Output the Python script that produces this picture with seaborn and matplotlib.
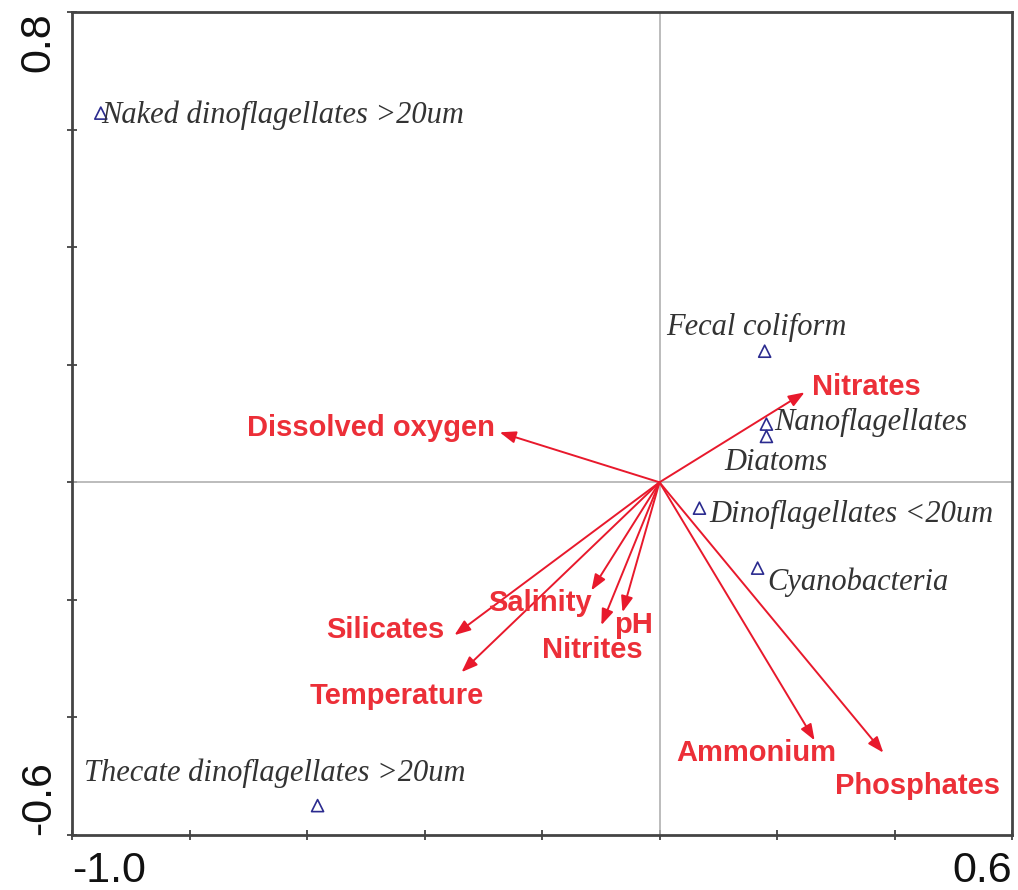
import matplotlib
matplotlib.use("Agg")
import matplotlib.pyplot as plt
import seaborn as sns
import pandas as pd

# ---- data ----
species = ["Naked dinoflagellates >20um", "Fecal coliform", "Nanoflagellates", "Diatoms",
           "Dinoflagellates <20um", "Cyanobacteria", "Thecate dinoflagellates >20um"]
species_x = [-0.951, 0.179, 0.182, 0.182, 0.068, 0.167, -0.582]
species_y = [0.628, 0.223, 0.099, 0.078, -0.044, -0.146, -0.550]

env = ["Dissolved oxygen", "Nitrates", "Silicates", "Temperature", "Salinity",
       "Nitrites", "pH", "Ammonium", "Phosphates"]
env_x = [-0.272, 0.247, -0.349, -0.337, -0.116, -0.099, -0.063, 0.264, 0.381]
env_y = [0.085, 0.153, -0.260, -0.323, -0.184, -0.243, -0.221, -0.439, -0.460]

xtick_labels = ["-1.0", "0.6"]
ytick_labels = ["-0.6", "0.8"]

# ---- label placement (styling) ----
species_lab = {
    "Naked dinoflagellates >20um": (-0.950, 0.625, "left"),
    "Fecal coliform": (0.012, 0.264, "left"),
    "Nanoflagellates": (0.196, 0.102, "left"),
    "Diatoms": (0.111, 0.034, "left"),
    "Dinoflagellates <20um": (0.085, -0.054, "left"),
    "Cyanobacteria": (0.184, -0.170, "left"),
    "Thecate dinoflagellates >20um": (-0.979, -0.495, "left"),
}
env_lab = {
    "Dissolved oxygen": (-0.281, 0.092, "right"),
    "Nitrates": (0.259, 0.162, "left"),
    "Silicates": (-0.366, -0.252, "right"),
    "Temperature": (-0.448, -0.363, "center"),
    "Salinity": (-0.204, -0.206, "center"),
    "Nitrites": (-0.114, -0.286, "center"),
    "pH": (-0.044, -0.243, "center"),
    "Ammonium": (0.165, -0.460, "center"),
    "Phosphates": (0.439, -0.516, "center"),
}

sns.set_theme(style="white")
plt.rcParams["font.family"] = ["Liberation Sans", "DejaVu Sans"]

fig = plt.figure(figsize=(10.18, 8.90), dpi=100)
ax = fig.add_axes([72/1018, 1-835/890, (1012-72)/1018, (835-12)/890])

ax.axhline(0, color="#b0b0b0", lw=1.2, zorder=1)
ax.axvline(0, color="#b0b0b0", lw=1.2, zorder=1)

df = pd.DataFrame({"x": species_x, "y": species_y, "name": species})
sns.scatterplot(data=df, x="x", y="y", marker="^", s=75, color="#2b2b8f",
                linewidth=1.2, ax=ax, zorder=3, legend=False)
for coll in ax.collections:
    coll.set_facecolor("none")
    coll.set_edgecolor("#2b2b8f")

red = "#e8192c"
for name, ex, ey in zip(env, env_x, env_y):
    ax.annotate("", xy=(ex, ey), xytext=(0, 0),
                arrowprops=dict(arrowstyle="-|>,head_length=0.8,head_width=0.3",
                                color=red, lw=1.4, shrinkA=0, shrinkB=0), zorder=4)
    lx, ly, ha = env_lab[name]
    ax.text(lx, ly, name, ha=ha, va="center", color="#ec2f38", fontsize=21,
            fontweight="bold", family=["Liberation Sans", "DejaVu Sans"], zorder=5)

for name in species:
    lx, ly, ha = species_lab[name]
    ax.text(lx, ly, name, ha=ha, va="center", color="#333333", fontsize=22,
            style="italic", family=["Liberation Serif", "DejaVu Serif"], zorder=5)

ax.set_xlim(-1.0, 0.6)
ax.set_ylim(-0.6, 0.8)
xt = [-1.0, -0.8, -0.6, -0.4, -0.2, 0.0, 0.2, 0.4, 0.6]
yt = [-0.6, -0.4, -0.2, 0.0, 0.2, 0.4, 0.6, 0.8]
ax.set_xticks(xt)
ax.set_yticks(yt)
ax.set_xticklabels([xtick_labels[0]] + [""] * 7 + [xtick_labels[1]])
ax.set_yticklabels([ytick_labels[0]] + [""] * 6 + [ytick_labels[1]], rotation=90)
ax.tick_params(axis="both", direction="inout", length=7, width=1.2, color="#333333",
               labelsize=31, labelcolor="#111111", bottom=True, left=True)
ax.tick_params(axis="x", pad=8)
ax.tick_params(axis="y", pad=6)
xl = ax.get_xticklabels()
xl[0].set_ha("left")
xl[-1].set_ha("right")
yl = ax.get_yticklabels()
yl[0].set_va("bottom")
yl[-1].set_va("top")
for s in ax.spines.values():
    s.set_color("#444444")
    s.set_linewidth(2)
ax.set_xlabel("")
ax.set_ylabel("")

fig.savefig("out.png", dpi=100)
